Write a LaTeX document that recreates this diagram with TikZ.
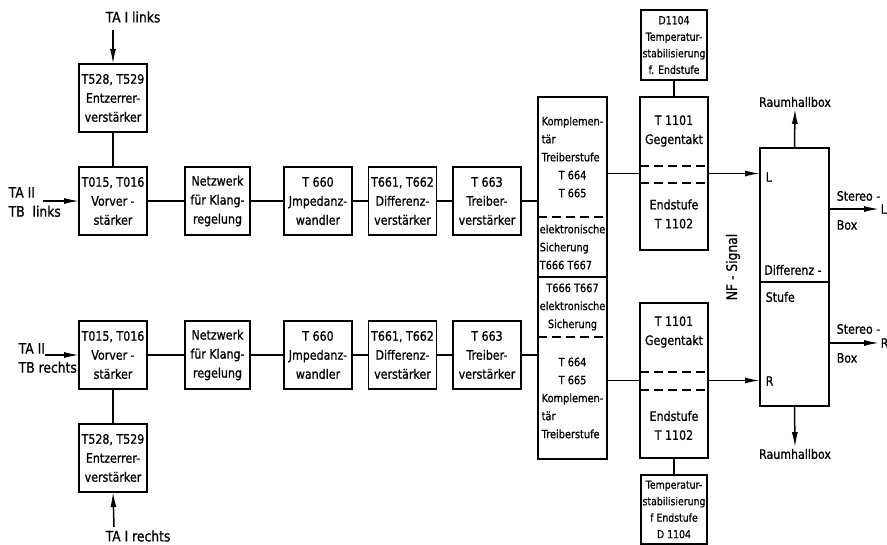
\documentclass[tikz,border=0pt]{standalone}
\usepackage{fontspec}
\setmainfont{DejaVu Sans}[FakeStretch=0.85, FakeBold=0.8]
\usetikzlibrary{positioning}
\usetikzlibrary{calc}
\usetikzlibrary{arrows.meta}

\tikzset{
  stufe/.style={draw, minimum width=68pt, minimum height=68pt, inner sep=1pt, outer sep=0pt, align=center, font=\fontsize{13}{19}\selectfont},
  klein/.style={font=\fontsize{11}{16.5}\selectfont},
  block/.style={minimum width=69pt, inner sep=1pt, outer sep=0pt, font=\fontsize{11.5}{18}\selectfont},
  beschr/.style={inner sep=1pt, font=\fontsize{13}{18}\selectfont},
  eingang/.style={inner sep=1pt, font=\fontsize{14.5}{19}\selectfont},
  pfeil/.style={-{Latex[length=15pt,width=6pt]}},
  strich/.style={dashed, dash pattern=on 9pt off 5pt}
}

\begin{document}
\begin{tikzpicture}[x=1pt, y=-1pt, line width=1.5pt]
        \useasboundingbox (0,0) rectangle (887,545);

        % nodes links %
        \node[stufe] (vl) at (113,201) {T015, T016\\Vorver -\\stärker};
        \node[stufe, above=35pt of vl] (el) {T528, T529\\Entzerrer-\\verstärker};
        \node[stufe, minimum width=65pt] (nl) at (217.5,201) {Netzwerk\\für Klang-\\regelung};
        \node[stufe] (il) at (318,201) {T 660\\Jmpedanz-\\wandler};
        \node[stufe] (dl) at (402.5,201) {T661, T662\\Differenz-\\verstärker};
        \node[stufe] (tl) at (487,201) {T 663\\Treiber-\\verstärker};

        % nodes rechts %
        \node[stufe] (vr) at (113,355) {T015, T016\\Vorver -\\stärker};
        \node[stufe, below=35pt of vr] (er) {T528, T529\\Entzerrer-\\verstärker};
        \node[stufe, minimum width=65pt] (nr) at (217.5,355) {Netzwerk\\für Klang-\\regelung};
        \node[stufe] (ir) at (318,355) {T 660\\Jmpedanz-\\wandler};
        \node[stufe] (dr) at (402.5,355) {T661, T662\\Differenz-\\verstärker};
        \node[stufe] (tr) at (487,355) {T 663\\Treiber-\\verstärker};

        % Treiberstufe und Sicherung %
        \node[block, minimum height=120pt, align=left] (kompl) at (572.5,157) {Komplemen-\\tär\\Treiberstufe\\\hspace*{17pt}T 664\\\hspace*{17pt}T 665};
        \node[block, minimum height=60pt, align=left, below=0pt of kompl] (sichl) {elektronische\\Sicherung\\T666 T667};
        \node[block, minimum height=60pt, align=center, below=0pt of sichl] (sichr) {T666 T667\\elektronische\\Sicherung};
        \node[block, minimum height=122pt, align=left, below=0pt of sichr] (kompr) {\hspace*{17pt}T 664\\\hspace*{17pt}T 665\\Komplemen-\\tär\\Treiberstufe};

        % Endstufen %
        \node[stufe, minimum height=153pt] (endl) at (674,173.5) {};
        \node[stufe, draw=none, minimum height=0pt] (endla) at (674,131) {T 1101\\Gegentakt};
        \node[stufe, draw=none, minimum height=0pt] (endlb) at (674,214) {Endstufe\\T 1102};
        \node[stufe, klein, minimum width=66pt, minimum height=70pt, above=17pt of endl] (tempo) {D1104\\Temperatur-\\stabilisierung\\f. Endstufe};

        \node[stufe, minimum height=155pt] (endr) at (674,380.5) {};
        \node[stufe, draw=none, minimum height=0pt] (endra) at (674,332) {T 1101\\Gegentakt};
        \node[stufe, draw=none, minimum height=0pt] (endrb) at (674,425.5) {Endstufe\\T 1102};
        \node[stufe, klein, minimum width=66pt, minimum height=69pt, below=17pt of endr] (tempu) {Temperatur-\\stabilisierung\\f Endstufe\\D 1104};

        % Differenzstufe %
        \node[draw, minimum width=69pt, minimum height=258pt, outer sep=0pt] (ds) at (794.5,277) {};
        \node[beschr] (dsa) at (793,270) {Differenz -};
        \node[beschr, anchor=west] (dsb) at (764,297) {Stufe};
        \node[beschr, anchor=west] (lin) at (764,177) {L};
        \node[beschr, anchor=west] (rin) at (764,381) {R};
        \node[eingang, rotate=90] (nf) at (733,267) {NF - Signal};

        \node[beschr] (rho) at (795,102) {Raumhallbox};
        \node[beschr] (rhu) at (795,454) {Raumhallbox};
        \node[beschr, anchor=west] (sl) at (879,209) {L};
        \node[beschr, anchor=west] (sr) at (879,343) {R};
        \node[beschr, anchor=west] (sla) at (835,196) {Stereo -};
        \node[beschr, anchor=west] (slb) at (835,225) {Box};
        \node[beschr, anchor=west] (sra) at (835,329) {Stereo -};
        \node[beschr, anchor=west] (srb) at (835,358) {Box};

        % Eingaenge %
        \node[eingang] (tal) at (133,17) {TA I links};
        \coordinate (tala) at (113,30);
        \node[eingang, align=left, anchor=west] (tbl) at (7,202) {TA II\\TB~ links};
        \coordinate (tbla) at (43,201);
        \node[eingang, align=left, anchor=west] (tbr) at (17,358) {TA II\\TB rechts};
        \coordinate (tbra) at (45,355);
        \node[eingang] (tar) at (138,536) {TA I rechts};
        \coordinate (tara) at (114,527);

        % edges %
        \draw[pfeil] (tala) -- (el.north);
        \draw[pfeil] (tbla) -- (vl.west);
        \draw[pfeil] (tbra) -- (vr.west);
        \draw[pfeil] (tara) -- (er.south);
        \draw (el) -- (vl);
        \draw (er) -- (vr);
        \draw (vl) -- (nl);
        \draw (nl) -- (il);
        \draw (il) -- (dl);
        \draw (dl) -- (tl);
        \draw (vr) -- (nr);
        \draw (nr) -- (ir);
        \draw (ir) -- (dr);
        \draw (dr) -- (tr);
        \draw (tl.east) -- (tl.east -| kompl.west);
        \draw (tr.east) -- (tr.east -| kompr.west);

        % Block Rahmen %
        \draw (kompl.north west) rectangle (kompr.south east);
        \draw[strich] (kompl.south west) -- (kompl.south east);
        \draw (sichl.south west) -- (sichl.south east);
        \draw[strich] (sichr.south west) -- (sichr.south east);

        \draw (endl.west -| kompl.east) -- (endl.west);
        \draw (endr.west -| kompr.east) -- (endr.west);
        \draw (tempo) -- (endl);
        \draw (tempu) -- (endr);
        \draw[strich] ($(endl.north west)+(0,69)$) -- ($(endl.north east)+(0,69)$);
        \draw[strich] ($(endl.north west)+(0,86)$) -- ($(endl.north east)+(0,86)$);
        \draw[strich] ($(endr.north west)+(0,69)$) -- ($(endr.north east)+(0,69)$);
        \draw[strich] ($(endr.north west)+(0,87)$) -- ($(endr.north east)+(0,87)$);

        \draw[pfeil] (endl.east) -- (endl.east -| ds.west);
        \draw[pfeil] (endr.east) -- (endr.east -| ds.west);
        \draw ($(ds.west)+(0,5)$) -- ($(ds.east)+(0,5)$);
        \draw[pfeil] (ds.north) -- (rho.south);
        \draw[pfeil] (ds.south) -- (rhu.north);
        \draw[pfeil] (ds.east |- sl) -- (sl.west);
        \draw[pfeil] (ds.east |- sr) -- (sr.west);
\end{tikzpicture}
\end{document}
